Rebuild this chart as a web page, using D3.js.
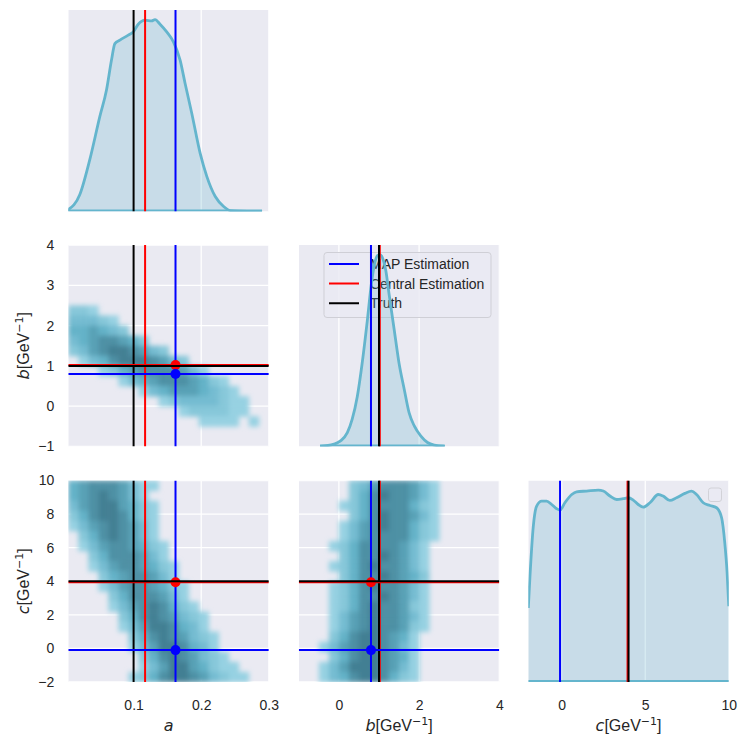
<!DOCTYPE html>
<html>
<head>
<meta charset="utf-8">
<script src="https://cdn.jsdelivr.net/npm/d3@7"></script>
<style>
  body { margin: 0; background: #fff; }
  text { font-family: "Liberation Sans", Arial, sans-serif; fill: #262626; }
</style>
</head>
<body>
<script>

// estimates drawn as lines / dots (a, b, c)
var mapEst = [0.162, 0.80, -0.10];
var centralEst = [0.117, 1.02, 3.94];
var truthVal = [0.10, 1.00, 4.00];

// axis ranges and ticks per parameter
var domains = [[0.0034, 0.3], [-1, 4], [-2, 10]];
var xTicks = [[0.1, 0.2, 0.3], [0, 2, 4], [0, 5, 10]];
var yTicks = [null, [-1, 0, 1, 2, 3, 4], [-2, 0, 2, 4, 6, 8, 10]];

// marginal kde curves (density in arbitrary units)
var kdeA_x = [0.003, 0.0203, 0.0351, 0.050, 0.0599, 0.0673, 0.0723, 0.0797, 0.0921, 0.0995, 0.1069, 0.1168, 0.1267, 0.1317, 0.1391, 0.149, 0.1589, 0.1688, 0.1762, 0.1861, 0.1985, 0.2084, 0.2208, 0.2332, 0.2431, 0.2579, 0.29];
var kdeA_y = [0.09, 0.87, 2.69, 4.94, 6.33, 7.89, 8.75, 8.93, 9.19, 9.36, 9.76, 9.97, 9.93, 10.0, 9.76, 9.36, 8.84, 7.89, 6.67, 5.11, 3.03, 1.82, 0.78, 0.26, 0.05, 0.02, 0];

var kdeB_x = [-0.47, -0.125, 0.04, 0.21, 0.33, 0.46, 0.58, 0.71, 0.81, 0.89, 0.96, 1.03, 1.08, 1.17, 1.25, 1.38, 1.5, 1.63, 1.75, 1.88, 2.04, 2.21, 2.38, 2.64];
var kdeB_y = [0, 0.12, 0.29, 0.72, 1.41, 2.62, 4.34, 6.59, 8.48, 9.52, 9.95, 10.0, 9.86, 9.17, 7.96, 6.07, 4.34, 2.97, 1.76, 1.07, 0.55, 0.21, 0.07, 0];

var kdeC_x = [-2.0, -1.9, -1.7, -1.5, -1.2, -0.9, -0.6, -0.3, -0.1, 0.19, 0.6, 0.89, 1.49, 2.19, 2.49, 2.89, 3.29, 3.68, 3.98, 4.28, 4.58, 4.88, 5.28, 5.78, 6.07, 6.47, 6.87, 7.37, 7.77, 8.07, 8.47, 8.87, 9.27, 9.57, 9.76, 9.9, 10.0];
var kdeC_y = [3.86, 5.51, 8.12, 9.17, 9.43, 9.43, 9.25, 9.03, 8.96, 9.34, 9.77, 9.91, 9.95, 10.0, 9.95, 9.69, 9.51, 9.55, 9.6, 9.48, 9.25, 9.11, 9.34, 9.77, 9.69, 9.46, 9.6, 9.83, 9.95, 9.77, 9.34, 9.2, 9.08, 8.56, 7.25, 5.69, 3.95];

// 2d histograms, coarse 20x20 count levels (0 = empty), top row = highest y value
var histAB = [
  "00000000000000000000",
  "00000000000000000000",
  "00000000000000000000",
  "00000000000000000000",
  "00000000000000000000",
  "00000000000000000000",
  "22100000000000000000",
  "33321000000000000000",
  "44543200000000000000",
  "34566542000000000000",
  "23567765320000000000",
  "01346777653200000000",
  "00012456666531000000",
  "00000134566654210000",
  "00000001345554321000",
  "00000000012333321100",
  "00000000000122221100",
  "00000000000001111010",
  "00000000000000000000",
  "00000000000000000000"
];

var histAC = [
  "45666531100000000000",
  "45676531000000000000",
  "35677542100000000000",
  "24677642100000000000",
  "13567653100000000000",
  "02467653100000000000",
  "01356654210000000000",
  "00246665310000000000",
  "00135665421000000000",
  "00024566531000000000",
  "00013566542100000000",
  "00002466653100000000",
  "00001356764210000000",
  "00000246765321000000",
  "00000135776431000000",
  "00000024676532100000",
  "00000013577643100000",
  "00000002467653210000",
  "00000001357754211000",
  "00000012467765321100"
];

var histBC = [
  "00000235666531000000",
  "00000246766531000000",
  "00001246666421000000",
  "00000246766531000000",
  "00001356766421000000",
  "00001356666421000000",
  "00012466665310000000",
  "00002466765310000000",
  "00012467665310000000",
  "00002466765420000000",
  "00012467665310000000",
  "00012466765310000000",
  "00012467665210000000",
  "00013567665310000000",
  "00013567665210000000",
  "00024677654100000000",
  "00135677653100000000",
  "00024677654100000000",
  "00135777653100000000",
  "00134677642100000000"
];

var legendLabels = ["MAP Estimation", "Central Estimation", "Truth"];
var lineColors = ["#0000ff", "#ff0000", "#000000"];

var kdes = [[kdeA_x, kdeA_y], [kdeB_x, kdeB_y], [kdeC_x, kdeC_y]];
var hists = { "1,0": histAB, "2,0": histAC, "2,1": histBC };

var colX = [68.3, 298.8, 528.3], colW = 200.5;
var rowY = [10, 245, 480.5], rowH = 201.5;

var svg = d3.select("body").append("svg")
  .attr("width", 748)
  .attr("height", 748);

var defs = svg.append("defs");
defs.append("filter").attr("id", "soft")
  .attr("x", "-5%").attr("y", "-5%").attr("width", "110%").attr("height", "110%")
  .append("feGaussianBlur").attr("stdDeviation", 2.8);

var xScale = domains.map(function(d, i) {
  return d3.scaleLinear().domain(d).range([colX[i], colX[i] + colW]);
});
var yScale = domains.map(function(d, j) {
  return d3.scaleLinear().domain(d).range([rowY[j] + rowH, rowY[j]]);
});
var densScale = domains.map(function(d, j) {
  return d3.scaleLinear().domain([0, 10.5]).range([rowY[j] + rowH, rowY[j]]);
});

var histColor = d3.scaleLinear()
  .domain([1, 4, 7])
  .range(["#96d1e2", "#63b2c8", "#437f93"])
  .interpolate(d3.interpolateHcl);

for (var row = 0; row < 3; row++) {
  for (var col = 0; col <= row; col++) {
    drawPanel(row, col);
  }
}

drawAxes();

function drawPanel(row, col) {
  var xs = xScale[col];
  var ys = yScale[row];
  var id = "clip" + row + col;

  defs.append("clipPath").attr("id", id)
    .append("rect")
      .attr("x", colX[col]).attr("y", rowY[row])
      .attr("width", colW).attr("height", rowH);

  var g = svg.append("g").attr("clip-path", "url(#" + id + ")");

  g.append("rect")
    .attr("x", colX[col]).attr("y", rowY[row])
    .attr("width", colW).attr("height", rowH)
    .attr("fill", "#eaeaf2");

  // grid
  g.selectAll(".vgrid").data(xTicks[col]).enter()
    .append("line")
      .attr("x1", function(d) { return xs(d); })
      .attr("x2", function(d) { return xs(d); })
      .attr("y1", rowY[row]).attr("y2", rowY[row] + rowH)
      .attr("stroke", "#fff").attr("stroke-width", 1.3);

  if (row != col) {
    g.selectAll(".hgrid").data(yTicks[row]).enter()
      .append("line")
        .attr("y1", function(d) { return ys(d); })
        .attr("y2", function(d) { return ys(d); })
        .attr("x1", colX[col]).attr("x2", colX[col] + colW)
        .attr("stroke", "#fff").attr("stroke-width", 1.3);
  }

  if (row == col) {
    if (row == 1) drawLegend(g);
    drawKde(g, row);
    // vertical lines
    [mapEst, centralEst, truthVal].forEach(function(est, k) {
      g.append("line")
        .attr("x1", xs(est[col])).attr("x2", xs(est[col]))
        .attr("y1", rowY[row]).attr("y2", rowY[row] + rowH)
        .attr("stroke", lineColors[k]).attr("stroke-width", 2);
    });
    if (row == 2) {
      // empty legend box
      g.append("rect")
        .attr("x", 708.5).attr("y", 488).attr("width", 13).attr("height", 13.5)
        .attr("rx", 2.5)
        .attr("fill", "#eaeaf2").attr("fill-opacity", 0.8)
        .attr("stroke", "#d2d2d8").attr("stroke-width", 1);
    }
    return;
  }

  // 2d histogram
  var grid = hists[row + "," + col];
  var nR = grid.length, nC = grid[0].length;
  var dx = (domains[col][1] - domains[col][0]) / nC;
  var dy = (domains[row][1] - domains[row][0]) / nR;
  var cells = [];
  grid.forEach(function(str, r) {
    for (var c = 0; c < nC; c++) {
      var v = +str[c];
      if (v > 0) {
        cells.push({
          x0: domains[col][0] + c * dx,
          y0: domains[row][1] - r * dy,
          v: v
        });
      }
    }
  });

  g.append("g").attr("filter", "url(#soft)")
    .selectAll("rect").data(cells).enter()
    .append("rect")
      .attr("x", function(d) { return xs(d.x0); })
      .attr("y", function(d) { return ys(d.y0); })
      .attr("width", function(d) { return xs(d.x0 + dx) - xs(d.x0) + 0.4; })
      .attr("height", function(d) { return ys(d.y0 - dy) - ys(d.y0) + 0.4; })
      .attr("fill", function(d) { return histColor(d.v); });

  // vertical lines (column parameter)
  [mapEst, centralEst, truthVal].forEach(function(est, k) {
    g.append("line")
      .attr("x1", xs(est[col])).attr("x2", xs(est[col]))
      .attr("y1", rowY[row]).attr("y2", rowY[row] + rowH)
      .attr("stroke", lineColors[k]).attr("stroke-width", 2);
  });

  // dots
  g.append("circle")
    .attr("cx", xs(mapEst[col])).attr("cy", ys(centralEst[row]))
    .attr("r", 5).attr("fill", "#ff0000");
  g.append("circle")
    .attr("cx", xs(mapEst[col])).attr("cy", ys(mapEst[row]))
    .attr("r", 5).attr("fill", "#0000ff");

  // horizontal lines (row parameter)
  [mapEst, centralEst, truthVal].forEach(function(est, k) {
    g.append("line")
      .attr("y1", ys(est[row])).attr("y2", ys(est[row]))
      .attr("x1", colX[col]).attr("x2", colX[col] + colW)
      .attr("stroke", lineColors[k]).attr("stroke-width", 2);
  });
}

function drawKde(g, i) {
  var xs = xScale[i], ys = densScale[i];
  var pts = kdes[i][0].map(function(x, k) { return [x, kdes[i][1][k]]; });

  var area = d3.area()
    .x(function(d) { return xs(d[0]); })
    .y0(ys(0))
    .y1(function(d) { return ys(d[1]); })
    .curve(d3.curveMonotoneX);

  var line = d3.line()
    .x(function(d) { return xs(d[0]); })
    .y(function(d) { return ys(d[1]); })
    .curve(d3.curveMonotoneX);

  g.append("path").datum(pts)
    .attr("d", area)
    .attr("fill", "#64b5cd").attr("fill-opacity", 0.25);

  g.append("path").datum(pts)
    .attr("d", line)
    .attr("fill", "none")
    .attr("stroke", "#64b5cd").attr("stroke-width", 2.8);

  g.append("line")
    .attr("x1", xs(pts[0][0])).attr("x2", xs(pts[pts.length - 1][0]))
    .attr("y1", ys(0) - 1).attr("y2", ys(0) - 1)
    .attr("stroke", "#64b5cd").attr("stroke-width", 2.2);
}

function drawLegend(g) {
  var lg = g.append("g");
  lg.append("rect")
    .attr("x", 324).attr("y", 252.5).attr("width", 167).attr("height", 65)
    .attr("rx", 3)
    .attr("fill", "#eaeaf2").attr("fill-opacity", 0.8)
    .attr("stroke", "#cfcfd6").attr("stroke-width", 1);
  legendLabels.forEach(function(lab, k) {
    var y = 264 + k * 19.6;
    lg.append("line")
      .attr("x1", 329).attr("x2", 359).attr("y1", y).attr("y2", y)
      .attr("stroke", lineColors[k]).attr("stroke-width", 2);
    lg.append("text")
      .attr("x", 370).attr("y", y + 5)
      .attr("font-size", 14)
      .text(lab);
  });
}

function drawAxes() {
  var fmt = d3.format("");

  for (var c = 0; c < 3; c++) {
    var ax = svg.append("g")
      .attr("transform", "translate(0," + (rowY[2] + rowH) + ")")
      .call(d3.axisBottom(xScale[c]).tickValues(xTicks[c]).tickSize(0).tickPadding(18.5).tickFormat(fmt));
    styleAxis(ax);
  }
  for (var r = 1; r < 3; r++) {
    var ay = svg.append("g")
      .attr("transform", "translate(" + colX[0] + ",0)")
      .call(d3.axisLeft(yScale[r]).tickValues(yTicks[r]).tickSize(0).tickPadding(14).tickFormat(fmt));
    styleAxis(ay);
  }

  // x labels
  var names = ["a", "b", "c"];
  names.forEach(function(n, i) {
    var t = svg.append("text")
      .attr("x", colX[i] + colW / 2).attr("y", 731)
      .attr("text-anchor", "middle")
      .attr("font-size", 16);
    addLabel(t, n, i > 0);
  });
  // y labels
  [1, 2].forEach(function(j) {
    var t = svg.append("text")
      .attr("transform", "translate(28.5," + (rowY[j] + rowH / 2) + ") rotate(-90)")
      .attr("text-anchor", "middle")
      .attr("font-size", 16);
    addLabel(t, names[j], true);
  });
}

function styleAxis(a) {
  a.select(".domain").remove();
  a.attr("font-size", 14)
   .attr("font-family", "Liberation Sans, Arial, sans-serif")
   .attr("color", "#262626");
}

function addLabel(t, name, unit) {
  t.append("tspan")
    .attr("font-family", "DejaVu Sans")
    .attr("font-style", "italic")
    .text(name);
  if (!unit) return;
  t.append("tspan").text("[GeV");
  t.append("tspan")
    .attr("font-family", "DejaVu Sans")
    .attr("font-size", 11)
    .attr("dy", -6)
    .text("\u22121");
  t.append("tspan").attr("dy", 6).text("]");
}

</script>
</body>
</html>
